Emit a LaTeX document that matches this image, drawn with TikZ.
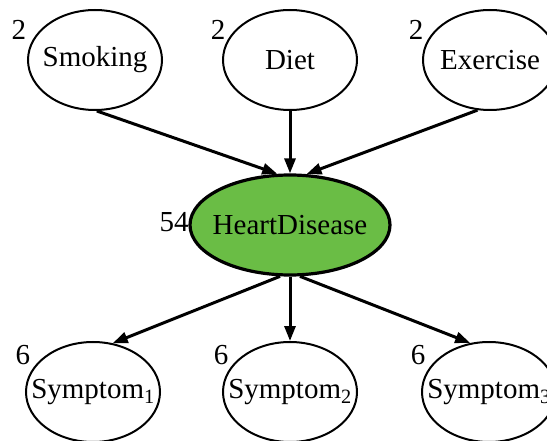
\documentclass[tikz,border=0pt]{standalone}
\usepackage{fontspec}
\setmainfont{Liberation Serif}
\usetikzlibrary{arrows.meta,shapes.geometric}
\definecolor{heartgreen}{RGB}{106,189,69}
\tikzset{
  every picture/.style={font=\fontsize{29}{34}\selectfont},
  var/.style={ellipse,draw,line width=2pt,inner sep=0pt,minimum width=134pt,minimum height=100pt,
    execute at begin node={\hbox to 0pt\bgroup\hss},execute at end node={\hss\egroup}},
  hub/.style={var,fill=heartgreen,line width=3.2pt,minimum width=200pt},
  card/.style={inner sep=0pt},
  dep/.style={line width=3pt,-{Triangle[length=15pt,width=11pt]}},
}

\begin{document}
\begin{tikzpicture}[x=1pt,y=-1pt]
  \useasboundingbox (0,0) rectangle (547,441);
  % parents
  \node[var] (smoking) at (95,60) {Smoking};
  \node[var] (diet) at (290,60) {Diet};
  \node[var] (exercise) at (490,60) {Exercise};
  \node[hub] (heart) at (290,225) {HeartDisease};
  % children
  \foreach \i/\x in {1/93,2/290,3/489}
    \node[var] (symptom\i) at (\x,392) {Symptom\textsubscript{\i}};
  % number of parameters
  \node[card] (smoking-card) at (19,30) {2};
  \node[card] (diet-card) at (218,30) {2};
  \node[card] (exercise-card) at (416,30) {2};
  \node[card] (heart-card) at (174,222) {54};
  \foreach \i/\x in {1/23,2/221,3/418}
    \node[card] (symptom\i-card) at (\x,355) {6};
  \draw[dep] (smoking.-88) -- (heart.104);
  \draw[dep] (diet.south) -- (heart.north);
  \draw[dep] (exercise.-104) -- (heart.72);
  \draw[dep] (heart.-101) -- (symptom1.68);
  \draw[dep] (heart.south) -- (symptom2.north);
  \draw[dep] (heart.-79) -- (symptom3.111);
\end{tikzpicture}
\end{document}
